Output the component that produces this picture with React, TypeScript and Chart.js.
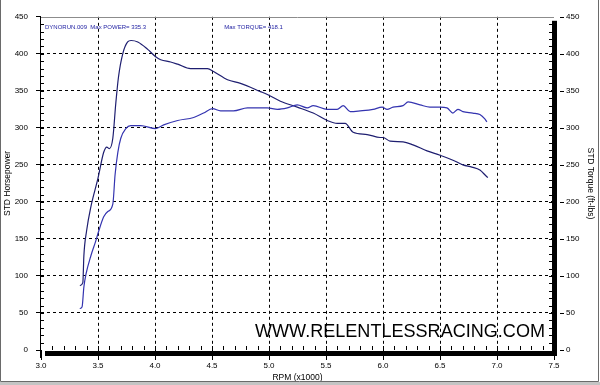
import { useEffect, useRef } from "react";
import { Chart, registerables } from "chart.js";
Chart.register(...registerables);

const powerRpm = [3.34, 3.36, 3.376, 3.394, 3.437, 3.48, 3.507, 3.55, 3.586, 3.63, 3.65, 3.674, 3.7, 3.744, 3.787, 3.875, 4.006, 4.076, 4.199, 4.339, 4.426, 4.505, 4.575, 4.689, 4.811, 4.925, 4.986, 5.074, 5.161, 5.248, 5.336, 5.388, 5.511, 5.598, 5.651, 5.712, 5.8, 5.913, 5.992, 6.036, 6.088, 6.176, 6.22, 6.325, 6.412, 6.5, 6.561, 6.613, 6.657, 6.701, 6.788, 6.85, 6.893, 6.911];
const powerHp = [56, 58, 85, 102, 127, 147, 161, 180, 187, 197, 237, 267, 286, 299, 303, 303, 299, 304, 310, 314, 320, 326, 323, 323, 327, 327, 327, 325, 327, 331, 327, 330, 325, 325, 330, 322, 323, 325, 328, 325, 328, 330, 335, 331, 328, 328, 327, 320, 325, 322, 320, 318, 312, 308];

const torqueRpm = [3.341, 3.367, 3.376, 3.4, 3.437, 3.5, 3.55, 3.577, 3.6, 3.63, 3.656, 3.68, 3.717, 3.76, 3.79, 3.849, 3.936, 4.006, 4.05, 4.137, 4.199, 4.312, 4.461, 4.514, 4.636, 4.75, 4.925, 4.986, 5.1, 5.248, 5.388, 5.511, 5.598, 5.668, 5.738, 5.861, 5.975, 6.001, 6.062, 6.176, 6.263, 6.386, 6.5, 6.587, 6.648, 6.701, 6.78, 6.85, 6.911, 6.92];
const torqueFtLb = [87, 91, 127, 161, 193, 232, 267, 274, 272, 286, 333, 369, 400, 416, 418, 416, 406, 396, 392, 389, 386, 380, 380, 376, 365, 360, 349, 345, 336, 328, 320, 310, 306, 306, 294, 291, 287, 287, 282, 281, 277, 269, 263, 258, 254, 250, 247, 243, 234, 233];

const rpmTicks = [3.0, 3.5, 4.0, 4.5, 5.0, 5.5, 6.0, 6.5, 7.0, 7.5];
const headerLeft = "DYNORUN.009  Max POWER= 335.3";
const headerRight = "Max TORQUE= 418.1";
const watermark = "WWW.RELENTLESSRACING.COM";

const FONT = "'Liberation Sans', Arial, sans-serif";

const framePlugin = {
  id: "dynoFrame",
  beforeDraw(chart: any) {
    const { ctx, width, height } = chart;
    ctx.save();
    ctx.fillStyle = "#ffffff";
    ctx.fillRect(0, 0, width, height);
    ctx.restore();
  },
  afterDraw(chart: any) {
    const { ctx, chartArea: a, scales, width, height } = chart;
    const xs = scales.x;
    const ys = scales.y;
    ctx.save();
    ctx.strokeStyle = "#8c8c8c";
    ctx.lineWidth = 1;
    ctx.beginPath();
    ctx.moveTo(a.left, Math.round(a.top) + 0.5);
    ctx.lineTo(a.right, Math.round(a.top) + 0.5);
    ctx.stroke();
    ctx.fillStyle = "#000000";
    ctx.fillRect(a.right - 2, a.top + 4, 5, a.bottom + 6 - (a.top + 4));
    ctx.fillRect(a.left + 4, a.bottom + 1, a.right + 3 - (a.left + 4), 5);
    ctx.fillRect(Math.round(a.left) - 1, a.top, 1, a.bottom - a.top + 8);
    ctx.strokeStyle = "#000000";
    ctx.beginPath();
    for (let v = 10; v < 450; v += 10) {
      const py = Math.round(ys.getPixelForValue(v)) + 0.5;
      ctx.moveTo(a.left, py);
      ctx.lineTo(a.left + 3, py);
      ctx.moveTo(a.right - 5, py);
      ctx.lineTo(a.right - 2, py);
    }
    for (let i = 1; i < 45; i++) {
      const r = 3 + i * 0.1;
      const px = Math.round(xs.getPixelForValue(r)) + 0.5;
      ctx.moveTo(px, a.bottom - 4);
      ctx.lineTo(px, a.bottom);
    }
    for (let v = 0; v <= 450; v += 50) {
      const py = Math.round(ys.getPixelForValue(v)) + 0.5;
      ctx.moveTo(a.right + 6, py);
      ctx.lineTo(a.right + 10, py);
    }
    ctx.stroke();
    ctx.fillStyle = "#1c1ca0";
    ctx.font = `6px ${FONT}`;
    ctx.textBaseline = "middle";
    ctx.textAlign = "left";
    ctx.fillText(headerLeft, a.left + 4, a.top + 11);
    ctx.fillText(headerRight, xs.getPixelForValue(4.8) - 22, a.top + 11);
    ctx.fillStyle = "#000000";
    ctx.font = `19px ${FONT}`;
    ctx.textBaseline = "alphabetic";
    const w = ctx.measureText(watermark).width;
    const targetW = 290;
    ctx.save();
    ctx.translate(255, 337);
    ctx.scale(targetW / w, 1);
    ctx.fillText(watermark, 0, 0);
    ctx.restore();
    ctx.fillStyle = "#c4c4c4";
    ctx.fillRect(0, height - 3, width, 3);
    ctx.strokeStyle = "#6a6a6a";
    ctx.beginPath();
    ctx.moveTo(0.5, 0);
    ctx.lineTo(0.5, height - 3.5);
    ctx.lineTo(width - 1.5, height - 3.5);
    ctx.lineTo(width - 1.5, 0);
    ctx.stroke();
    ctx.restore();
  },
};

export default function App() {
  const ref = useRef<HTMLCanvasElement | null>(null);
  useEffect(() => {
    document.body.style.margin = "0";
    const canvas = ref.current;
    if (!canvas) return;
    const gridColor = (c: any) => {
      const v = c.tick ? c.tick.value : null;
      return v === 0 || v === 450 ? "rgba(0,0,0,0)" : "#000000";
    };
    const xGridColor = (c: any) => {
      const v = c.tick ? c.tick.value : null;
      return v === 3 || v === 7.5 ? "rgba(0,0,0,0)" : "#000000";
    };
    const chart = new Chart(canvas, {
      type: "line",
      data: {
        datasets: [
          {
            label: "STD Horsepower",
            data: powerRpm.map((r, i) => ({ x: r, y: powerHp[i] })),
            borderColor: "#3434b0",
            borderWidth: 1.2,
            pointRadius: 0,
            cubicInterpolationMode: "monotone",
            yAxisID: "y",
          },
          {
            label: "STD Torque (ft-lbs)",
            data: torqueRpm.map((r, i) => ({ x: r, y: torqueFtLb[i] })),
            borderColor: "#1e1e70",
            borderWidth: 1.2,
            pointRadius: 0,
            cubicInterpolationMode: "monotone",
            yAxisID: "y2",
          },
        ],
      },
      options: {
        animation: false,
        responsive: false,
        maintainAspectRatio: false,
        devicePixelRatio: 1,
        layout: { padding: { top: 9, left: 0, right: 0, bottom: 0 } },
        plugins: { legend: { display: false }, tooltip: { enabled: false }, title: { display: false } },
        scales: {
          x: {
            type: "linear",
            min: 3,
            max: 7.5,
            afterBuildTicks: (s: any) => {
              s.ticks = rpmTicks.map((v) => ({ value: v }));
            },
            afterFit: (s: any) => {
              s.height = 35;
            },
            ticks: {
              callback: (v: any) => Number(v).toFixed(1),
              font: { family: FONT, size: 8 },
              color: "#000000",
              padding: 1,
              maxRotation: 0,
              autoSkip: false,
            },
            grid: {
              color: xGridColor,
              tickColor: "#000000",
              tickLength: 10,
              tickBorderDash: [],
              lineWidth: 1,
            },
            border: { display: false, dash: [3, 3] },
            title: {
              display: true,
              text: "RPM (x1000)",
              font: { family: FONT, size: 8.5 },
              color: "#000000",
              padding: { top: 2, bottom: 2 },
            },
          },
          y: {
            position: "left",
            min: 0,
            max: 450,
            ticks: {
              stepSize: 50,
              font: { family: FONT, size: 8 },
              color: "#000000",
              padding: 8,
            },
            afterFit: (s: any) => {
              s.width = 41;
            },
            grid: {
              color: gridColor,
              tickColor: "#000000",
              tickLength: 5,
              tickBorderDash: [],
              lineWidth: 1,
            },
            border: { display: false, dash: [3, 3] },
            title: {
              display: true,
              text: "STD Horsepower",
              font: { family: FONT, size: 8.5 },
              color: "#000000",
              padding: { top: 3, bottom: 3 },
            },
          },
          y2: {
            position: "right",
            min: 0,
            max: 450,
            ticks: {
              stepSize: 50,
              font: { family: FONT, size: 8 },
              color: "#000000",
              padding: 12,
            },
            afterFit: (s: any) => {
              s.width = 46;
            },
            grid: { drawOnChartArea: false, drawTicks: false },
            border: { display: false },
            title: {
              display: true,
              text: "STD Torque (ft-lbs)",
              font: { family: FONT, size: 8.5 },
              color: "#000000",
              padding: { top: 5, bottom: 5 },
            },
          },
        },
      },
      plugins: [framePlugin],
    } as any);
    return () => chart.destroy();
  }, []);
  return (
    <div style={{ width: 600, height: 385 }}>
      <canvas ref={ref} width={600} height={385} style={{ display: "block" }} />
    </div>
  );
}
